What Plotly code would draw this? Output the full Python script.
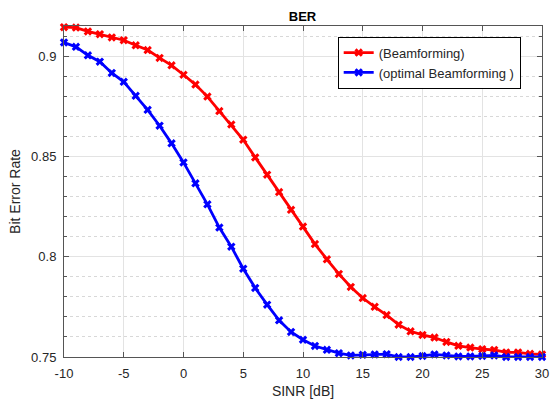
import plotly.graph_objects as go

sinr_db = list(range(-10, 31))

ber_beamforming = [
    0.9144, 0.9142, 0.9123, 0.9109, 0.9093, 0.9079, 0.9054, 0.9030, 0.8991, 0.8954,
    0.8907, 0.8858, 0.8798, 0.8726, 0.8659, 0.8583, 0.8495, 0.8409, 0.8322, 0.8234,
    0.8150, 0.8063, 0.7987, 0.7914, 0.7849, 0.7794, 0.7750, 0.7709, 0.7661, 0.7628,
    0.7610, 0.7597, 0.7575, 0.7556, 0.7547, 0.7539, 0.7535, 0.7523, 0.7523, 0.7516,
    0.7513,
]

ber_optimal = [
    0.9068, 0.9046, 0.9004, 0.8972, 0.8916, 0.8872, 0.8802, 0.8732, 0.8653, 0.8565,
    0.8470, 0.8366, 0.8261, 0.8145, 0.8050, 0.7940, 0.7844, 0.7761, 0.7683, 0.7625,
    0.7586, 0.7555, 0.7536, 0.7519, 0.7508, 0.7511, 0.7513, 0.7514, 0.7500, 0.7500,
    0.7505, 0.7513, 0.7508, 0.7503, 0.7503, 0.7505, 0.7508, 0.7500, 0.7500, 0.7500,
    0.7500,
]

y_tickvals = [0.75, 0.8, 0.85, 0.9]
y_ticktext = ["0.75", "0.8", "0.85", "0.9"]
x_tickvals = [-10, -5, 0, 5, 10, 15, 20, 25, 30]
x_ticktext = ["-10", "-5", "0", "5", "10", "15", "20", "25", "30"]

font_family = "Liberation Sans, Arial, sans-serif"
axis_color = "#555555"
text_color = "#262626"

fig = go.Figure()
fig.add_trace(go.Scatter(
    x=sinr_db, y=ber_beamforming, mode="lines+markers",
    name="(Beamforming)",
    line=dict(color="#ff0000", width=2.8),
    marker=dict(symbol="x", size=7.5, color="#ff0000"),
    cliponaxis=False,
))
fig.add_trace(go.Scatter(
    x=sinr_db, y=ber_optimal, mode="lines+markers",
    name="(optimal Beamforming )",
    line=dict(color="#0000ff", width=2.8),
    marker=dict(symbol="x", size=7.5, color="#0000ff"),
    cliponaxis=False,
))

fig.update_layout(
    width=550, height=400,
    margin=dict(l=64, r=8, t=26, b=43, autoexpand=False),
    paper_bgcolor="white", plot_bgcolor="white",
    font=dict(family=font_family, size=12, color=text_color),
    title=dict(text="<b>BER</b>", x=0.55, xanchor="center", y=0.96, yanchor="middle",
               font=dict(size=13, color="#000000", family=font_family)),
    showlegend=True,
    legend=dict(
        x=0.5726, y=0.968, xanchor="left", yanchor="top",
        bgcolor="white", bordercolor="#000000", borderwidth=1,
        font=dict(size=13, color=text_color, family=font_family),
        tracegroupgap=0, itemwidth=30,
    ),
)

fig.update_xaxes(
    range=[-10, 30], tickvals=x_tickvals, ticktext=x_ticktext,
    showline=True, linecolor=axis_color, linewidth=1, mirror="ticks",
    ticks="inside", ticklen=5, tickcolor=axis_color,
    showgrid=True, gridcolor="#e3e3e3", gridwidth=1,
    zeroline=False, ticklabelstandoff=4,
    tickfont=dict(size=13, color=text_color),
    title=dict(text="SINR [dB]", font=dict(size=14, color=text_color), standoff=6),
)
fig.update_yaxes(
    range=[0.75, 0.915], tickvals=y_tickvals, ticktext=y_ticktext,
    showline=True, linecolor=axis_color, linewidth=1, mirror="ticks",
    ticks="inside", ticklen=5, tickcolor=axis_color,
    showgrid=True, gridcolor="#e3e3e3", gridwidth=1,
    zeroline=False, ticklabelstandoff=4,
    tickfont=dict(size=13, color=text_color),
    minor=dict(dtick=0.01, tick0=0.75, ticks="inside", ticklen=3, tickcolor=axis_color,
               showgrid=True, gridcolor="#d8d8d8", griddash="dot", gridwidth=1),
    title=dict(text="Bit Error Rate", font=dict(size=14, color=text_color), standoff=7),
)

fig.write_html("out.html", config={"displayModeBar": False},
               post_script="document.body.style.margin='0';")
